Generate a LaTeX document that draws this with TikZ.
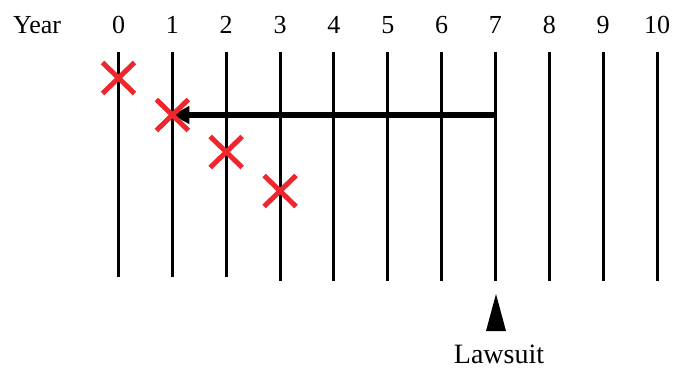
\documentclass[tikz,border=0pt]{standalone}
\usepackage{fontspec}
\setmainfont{Liberation Serif}
\usetikzlibrary{shapes.misc,arrows.meta,calc}
\begin{document}
\begin{tikzpicture}[x=1pt,y=-1pt,
  yearlabel/.style={font=\fontsize{26}{28}\selectfont, anchor=base, inner sep=0pt},
  yline/.style={line width=3pt, black},
  xmark/.style={cross out, draw=xred, line width=5pt, minimum width=27pt, minimum height=26pt, inner sep=0pt},
  bigarrow/.style={line width=5.5pt, -{Triangle[length=17pt,width=17pt]}},
]
\definecolor{xred}{RGB}{238,38,45}
\useasboundingbox (0,0) rectangle (675,369);
\node[yearlabel, anchor=base west] (year) at (13,34) {Year};
\foreach \i in {0,...,10} {
  \pgfmathsetmacro{\xx}{118.5+53.85*\i}
  \node[yearlabel] (t\i) at (\xx,34) {\i};
  \coordinate (top\i) at (\xx,52);
}
\foreach \i in {0,1,2} {\coordinate (bot\i) at ($(top\i)+(0,225)$);}
\foreach \i in {3,...,10} {\coordinate (bot\i) at ($(top\i)+(0,229)$);}
\foreach \i in {0,...,10} {\draw[yline] (top\i) -- (bot\i);}
\coordinate (a7) at ($(top7)+(0,63)$);
\coordinate (a1) at ($(top1)+(0,63)$);
\draw[bigarrow] (a7) -- (a1);
\node[xmark] (x0) at ($(top0)+(0,26)$) {};
\node[xmark] (x1) at ($(top1)+(0,63)$) {};
\node[xmark] (x2) at ($(top2)+(0,100)$) {};
\node[xmark] (x3) at ($(top3)+(0,139)$) {};
\coordinate (apex) at (496,294);
\fill[black] (apex) -- ++(10,37) -- ++(-20,0) -- cycle;
\node[yearlabel, font=\fontsize{28}{30}\selectfont] (law) at (499,363) {Lawsuit};
\end{tikzpicture}
\end{document}
